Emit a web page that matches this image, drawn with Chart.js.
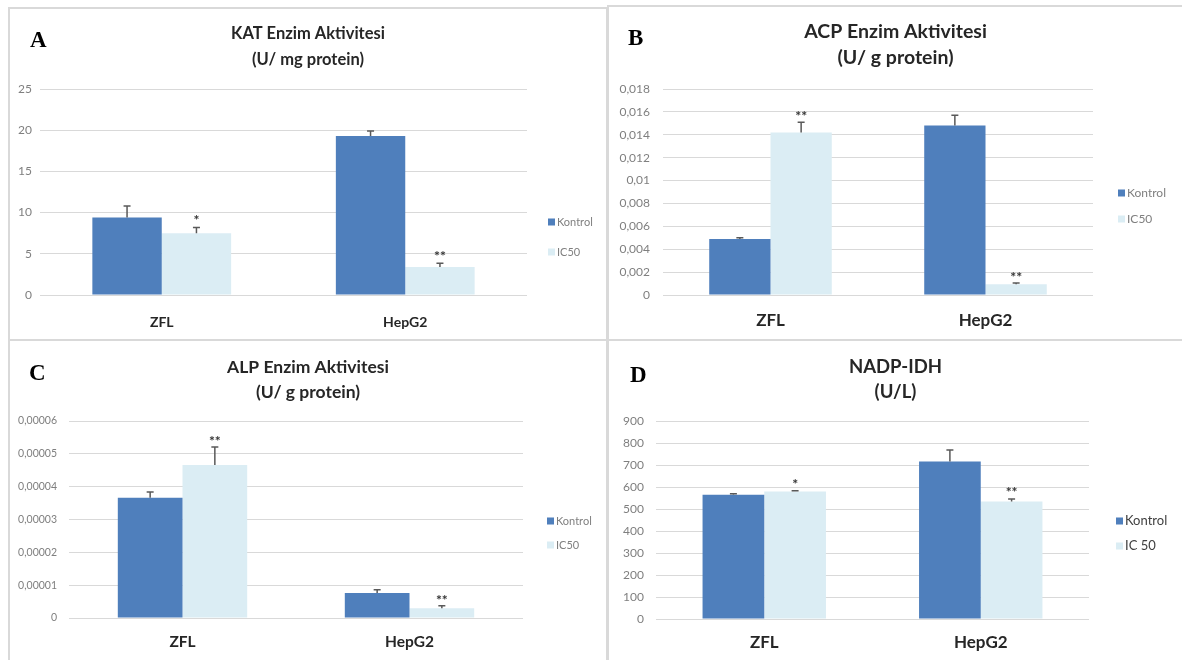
<!DOCTYPE html>
<html lang="tr">
<head>
<meta charset="UTF-8">
<title>Enzim Aktiviteleri</title>
<script src="https://cdn.jsdelivr.net/npm/chart.js@4.4.1/dist/chart.umd.min.js"></script>
<style>
    html, body { margin: 0; padding: 0; background: #fff; }
    body { width: 1182px; height: 660px; position: relative; overflow: hidden; }
    .panel { position: absolute; box-sizing: border-box; border: 2px solid #d9d9d9; }
    .panel .box { position: absolute; left: 0; top: 0; right: 0; bottom: 0; }
</style>
</head>
<body>
<div class="panel" style="left:8px;top:7px;width:600px;height:334px"><div class="box"><canvas id="chart-a"></canvas></div></div>
<div class="panel" style="left:607px;top:5px;width:577px;height:336px"><div class="box"><canvas id="chart-b"></canvas></div></div>
<div class="panel" style="left:8px;top:339px;width:600px;height:323px"><div class="box"><canvas id="chart-c"></canvas></div></div>
<div class="panel" style="left:607px;top:339px;width:577px;height:323px"><div class="box"><canvas id="chart-d"></canvas></div></div>

<script>
// ============================================================
// Data
// ============================================================
const categories = ['ZFL', 'HepG2'];

// A - KAT (U/ mg protein)
const katKontrol = [9.4, 19.3];
const katKontrolErr = [1.4, 0.6];
const katIC50 = [7.5, 3.4];
const katIC50Err = [0.7, 0.45];
const katStars = ['*', '**'];
const katTicks = ['0', '5', '10', '15', '20', '25'];
const katStep = 5;

// B - ACP (U/ g protein)
const acpKontrol = [0.0049, 0.0148];
const acpKontrolErr = [0.0001, 0.0009];
const acpIC50 = [0.0142, 0.00093];
const acpIC50Err = [0.0009, 0.00012];
const acpStars = ['**', '**'];
const acpTicks = ['0', '0,002', '0,004', '0,006', '0,008', '0,01', '0,012', '0,014', '0,016', '0,018'];
const acpStep = 0.002;

// C - ALP (U/ g protein)
const alpKontrol = [0.0000366, 0.0000076];
const alpKontrolErr = [0.0000018, 0.000001];
const alpIC50 = [0.0000466, 0.000003];
const alpIC50Err = [0.0000055, 0.0000007];
const alpStars = ['**', '**'];
const alpTicks = ['0', '0,00001', '0,00002', '0,00003', '0,00004', '0,00005', '0,00006'];
const alpStep = 0.00001;

// D - NADP-IDH (U/L)
const nadpKontrol = [565, 716];
const nadpKontrolErr = [4, 52];
const nadpIC50 = [579, 534];
const nadpIC50Err = [4, 12];
const nadpStars = ['*', '**'];
const nadpTicks = ['0', '100', '200', '300', '400', '500', '600', '700', '800', '900'];
const nadpStep = 100;

const KONTROL_COLOR = '#4f7fbc';
const IC50_COLOR = '#dbedf4';

// ============================================================
// Plugin: panel letter, two-line title, legend, error bars, stars
// ============================================================
const panelDecor = {
    id: 'panelDecor',
    afterDatasetsDraw(chart) {
        const ctx = chart.ctx;
        const opts = chart.options.plugins.panelDecor;
        const yScale = chart.scales.y;

        // error bars (plus direction only) and significance stars
        ctx.save();
        chart.data.datasets.forEach((ds, i) => {
            const meta = chart.getDatasetMeta(i);
            meta.data.forEach((bar, j) => {
                const top = yScale.getPixelForValue(ds.data[j]);
                const cap = yScale.getPixelForValue(ds.data[j] + ds.errors[j]);
                ctx.strokeStyle = '#595959';
                ctx.lineWidth = 1.5;
                ctx.beginPath();
                ctx.moveTo(bar.x, top);
                ctx.lineTo(bar.x, cap);
                ctx.moveTo(bar.x - 3.5, cap);
                ctx.lineTo(bar.x + 3.5, cap);
                ctx.stroke();
                if (ds.stars && ds.stars[j]) {
                    ctx.fillStyle = '#333';
                    ctx.font = 'bold 14px Lato';
                    ctx.textAlign = 'center';
                    ctx.textBaseline = 'alphabetic';
                    ctx.fillText(ds.stars[j], bar.x, cap + opts.starOffset);
                }
            });
        });
        ctx.restore();
    },
    afterDraw(chart) {
        const ctx = chart.ctx;
        const opts = chart.options.plugins.panelDecor;
        const w = chart.width;
        ctx.save();

        // panel letter
        ctx.fillStyle = '#000';
        ctx.font = 'bold 23px "Liberation Serif"';
        ctx.textAlign = 'left';
        ctx.textBaseline = 'alphabetic';
        ctx.fillText(opts.letter, opts.letterX, opts.letterY);

        // title, two lines
        ctx.fillStyle = '#262626';
        ctx.font = 'bold ' + opts.titleSize + 'px Lato';
        ctx.textAlign = 'center';
        ctx.textBaseline = 'middle';
        ctx.fillText(opts.title[0], w / 2, opts.titleY[0]);
        ctx.fillText(opts.title[1], w / 2, opts.titleY[1]);

        // legend
        ctx.font = opts.legendSize + 'px Lato';
        ctx.textAlign = 'left';
        chart.data.datasets.forEach((ds, i) => {
            const y = opts.legendY[i];
            ctx.fillStyle = ds.backgroundColor;
            ctx.fillRect(opts.legendX, y - 3.5, 7, 7);
            ctx.fillStyle = opts.legendColor;
            ctx.fillText(ds.label, opts.legendX + 9, y);
        });
        ctx.restore();
    }
};

// ============================================================
// Build one panel chart
// ============================================================
function createPanelChart(canvasId, setup) {
    const ctx = document.getElementById(canvasId).getContext('2d');

    new Chart(ctx, {
        type: 'bar',
        data: {
            labels: categories,
            datasets: [{
                label: 'Kontrol',
                data: setup.kontrol,
                errors: setup.kontrolErr,
                backgroundColor: KONTROL_COLOR
            }, {
                label: setup.ic50Label,
                data: setup.ic50,
                errors: setup.ic50Err,
                stars: setup.stars,
                backgroundColor: IC50_COLOR
            }]
        },
        plugins: [panelDecor],
        options: {
            responsive: true,
            maintainAspectRatio: false,
            animation: false,
            datasets: {
                bar: { barPercentage: 1, categoryPercentage: 0.57 }
            },
            layout: {
                padding: { top: setup.pad.top, right: setup.pad.right, left: 0, bottom: 0 }
            },
            plugins: {
                legend: { display: false },
                title: { display: false },
                tooltip: { enabled: false },
                panelDecor: setup.decor
            },
            scales: {
                x: {
                    grid: { display: false, drawTicks: false },
                    border: { display: false },
                    ticks: {
                        padding: setup.pad.xTick,
                        color: '#262626',
                        font: { family: 'Lato', weight: 'bold', size: setup.catSize }
                    },
                    afterFit: (scale) => { scale.height = setup.pad.xHeight; }
                },
                y: {
                    min: 0,
                    max: setup.step * (setup.ticks.length - 1),
                    grid: { color: '#d9d9d9', lineWidth: 1, drawTicks: false },
                    border: { display: false },
                    ticks: {
                        stepSize: setup.step,
                        padding: setup.pad.yTick,
                        color: '#7f7f7f',
                        font: { family: 'Lato', size: setup.tickSize },
                        callback: (value) => setup.ticks[Math.round(value / setup.step)]
                    },
                    afterFit: (scale) => { scale.width = setup.pad.yWidth; }
                }
            }
        }
    });
}

// ============================================================
// Four panels
// ============================================================
document.addEventListener('DOMContentLoaded', function() {
    createPanelChart('chart-a', {
        kontrol: katKontrol, kontrolErr: katKontrolErr,
        ic50: katIC50, ic50Err: katIC50Err, stars: katStars, ic50Label: 'IC50',
        ticks: katTicks, step: katStep, tickSize: 12, catSize: 14,
        pad: { top: 80, right: 79, yWidth: 30, xHeight: 44, yTick: 8, xTick: 19 },
        decor: {
            letter: 'A', letterX: 20, letterY: 38,
            title: ['KAT Enzim Aktivitesi', '(U/ mg protein)'], titleSize: 16.5, titleY: [25, 51],
            legendX: 538, legendY: [213, 243], legendSize: 11, legendColor: '#7f7f7f',
            starOffset: -2
        }
    });

    createPanelChart('chart-b', {
        kontrol: acpKontrol, kontrolErr: acpKontrolErr,
        ic50: acpIC50, ic50Err: acpIC50Err, stars: acpStars, ic50Label: 'IC50',
        ticks: acpTicks, step: acpStep, tickSize: 12, catSize: 17,
        pad: { top: 82, right: 89, yWidth: 54, xHeight: 44, yTick: 13, xTick: 15 },
        decor: {
            letter: 'B', letterX: 19, letterY: 38,
            title: ['ACP Enzim Aktivitesi', '(U/ g protein)'], titleSize: 19.5, titleY: [25, 51],
            legendX: 509, legendY: [186, 212], legendSize: 12, legendColor: '#7f7f7f',
            starOffset: -1
        }
    });

    createPanelChart('chart-c', {
        kontrol: alpKontrol, kontrolErr: alpKontrolErr,
        ic50: alpIC50, ic50Err: alpIC50Err, stars: alpStars, ic50Label: 'IC50',
        ticks: alpTicks, step: alpStep, tickSize: 10.5, catSize: 15.5,
        pad: { top: 80, right: 83, yWidth: 59, xHeight: 42, yTick: 12, xTick: 15 },
        decor: {
            letter: 'C', letterX: 19, letterY: 39,
            title: ['ALP Enzim Aktivitesi', '(U/ g protein)'], titleSize: 17.5, titleY: [26, 51],
            legendX: 537, legendY: [180, 204], legendSize: 11, legendColor: '#7f7f7f',
            starOffset: -1
        }
    });

    createPanelChart('chart-d', {
        kontrol: nadpKontrol, kontrolErr: nadpKontrolErr,
        ic50: nadpIC50, ic50Err: nadpIC50Err, stars: nadpStars, ic50Label: 'IC 50',
        ticks: nadpTicks, step: nadpStep, tickSize: 12, catSize: 17,
        pad: { top: 80, right: 93, yWidth: 47, xHeight: 41, yTick: 12, xTick: 13 },
        decor: {
            letter: 'D', letterX: 21, letterY: 41,
            title: ['NADP-IDH', '(U/L)'], titleSize: 18.5, titleY: [26, 51],
            legendX: 507, legendY: [180, 205], legendSize: 13, legendColor: '#404040',
            starOffset: -2
        }
    });
});
</script>
</body>
</html>
